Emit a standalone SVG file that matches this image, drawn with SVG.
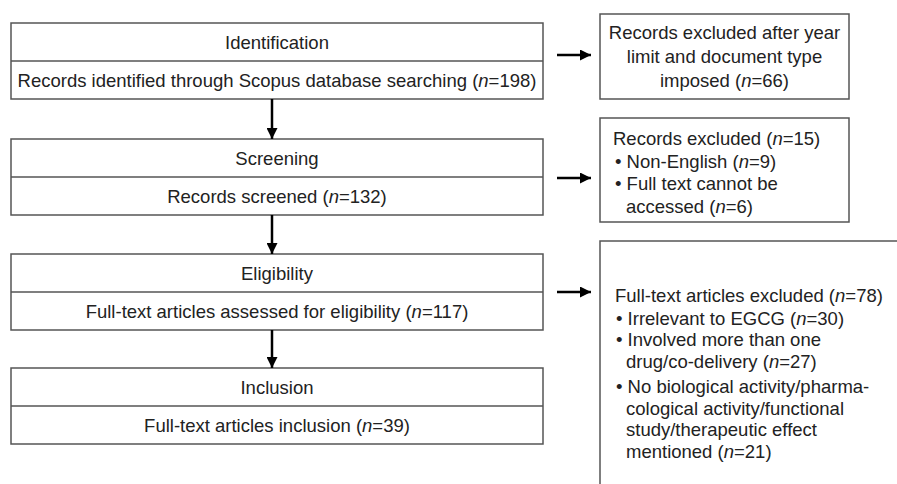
<svg xmlns="http://www.w3.org/2000/svg" width="897" height="484" viewBox="0 0 897 484">
<defs>
<style>
.box{fill:#fff;stroke:#555;stroke-width:1.5}
.div{stroke:#555;stroke-width:1.5}
text{font-family:"Liberation Sans",Arial,sans-serif;font-size:18.5px;fill:#222}
.c{text-anchor:middle}
.conn{stroke:#000;stroke-width:2.5;fill:none}
</style>
<marker id="ah" viewBox="0 0 10 10" refX="10" refY="5" markerWidth="4.4" markerHeight="4.4" markerUnits="strokeWidth" orient="auto">
<path d="M0 0 L10 5 L0 10 Z" fill="#000"/>
</marker>
</defs>
<rect width="897" height="484" fill="#fff"/>

<g id="identification">
<rect class="box" x="11" y="23" width="532" height="76"/>
<line class="div" x1="11" y1="61" x2="543" y2="61"/>
<text class="c" x="277" y="48.5">Identification</text>
<text class="c" x="277" y="86.5">Records identified through Scopus database searching (<tspan font-style="italic">n</tspan>=198)</text>
</g>

<g id="screening">
<rect class="box" x="11" y="139" width="532" height="76"/>
<line class="div" x1="11" y1="177" x2="543" y2="177"/>
<text class="c" x="277" y="164.5">Screening</text>
<text class="c" x="277" y="202.5">Records screened (<tspan font-style="italic">n</tspan>=132)</text>
</g>

<g id="eligibility">
<rect class="box" x="11" y="254" width="532" height="76"/>
<line class="div" x1="11" y1="292" x2="543" y2="292"/>
<text class="c" x="277" y="279.5">Eligibility</text>
<text class="c" x="277" y="317.5">Full-text articles assessed for eligibility (<tspan font-style="italic">n</tspan>=117)</text>
</g>

<g id="inclusion">
<rect class="box" x="11" y="368" width="532" height="76"/>
<line class="div" x1="11" y1="406" x2="543" y2="406"/>
<text class="c" x="277" y="393.5">Inclusion</text>
<text class="c" x="277" y="431.5">Full-text articles inclusion (<tspan font-style="italic">n</tspan>=39)</text>
</g>

<g id="excluded-year">
<rect class="box" x="600" y="14" width="249" height="85"/>
<text class="c" x="724.5" y="38.5">Records excluded after year</text>
<text class="c" x="724.5" y="62.5">limit and document type</text>
<text class="c" x="724.5" y="86.5">imposed (<tspan font-style="italic">n</tspan>=66)</text>
</g>

<g id="excluded-records">
<rect class="box" x="600" y="118" width="249" height="104"/>
<text x="613" y="145">Records excluded (<tspan font-style="italic">n</tspan>=15)</text>
<text x="615" y="168">• Non-English (<tspan font-style="italic">n</tspan>=9)</text>
<text x="615" y="190">• Full text cannot be</text>
<text x="626" y="213">accessed (<tspan font-style="italic">n</tspan>=6)</text>
</g>

<g id="excluded-fulltext">
<path class="box" fill="none" d="M600 484 V241 H897"/>
<text x="615" y="301.5">Full-text articles excluded (<tspan font-style="italic">n</tspan>=78)</text>
<text x="616" y="324.5">• Irrelevant to EGCG (<tspan font-style="italic">n</tspan>=30)</text>
<text x="616" y="345.5">• Involved more than one</text>
<text x="626" y="367.5">drug/co-delivery (<tspan font-style="italic">n</tspan>=27)</text>
<text x="616" y="392.5">• No biological activity/pharma-</text>
<text x="626" y="414.5">cological activity/functional</text>
<text x="626" y="435.5">study/therapeutic effect</text>
<text x="626" y="457.5">mentioned (<tspan font-style="italic">n</tspan>=21)</text>
</g>

<g id="connectors">
<line class="conn" x1="272" y1="99" x2="272" y2="139" marker-end="url(#ah)"/>
<line class="conn" x1="272" y1="215" x2="272" y2="254" marker-end="url(#ah)"/>
<line class="conn" x1="272" y1="330" x2="272" y2="368" marker-end="url(#ah)"/>
<line class="conn" x1="557" y1="55" x2="591" y2="55" marker-end="url(#ah)"/>
<line class="conn" x1="557" y1="178" x2="591" y2="178" marker-end="url(#ah)"/>
<line class="conn" x1="557" y1="292" x2="591" y2="292" marker-end="url(#ah)"/>
</g>
</svg>
